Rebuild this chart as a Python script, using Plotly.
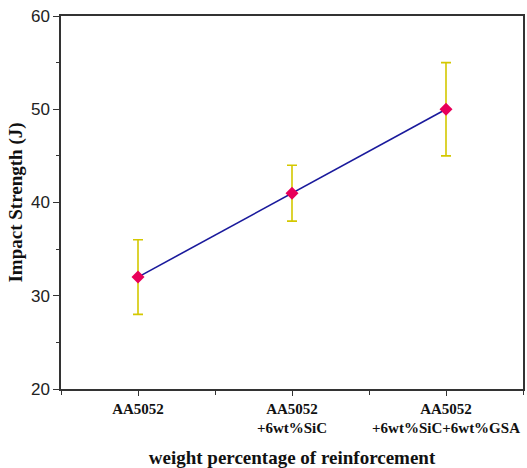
import plotly.graph_objects as go

categories = ["AA5052", "AA5052<br>+6wt%SiC", "AA5052<br>+6wt%SiC+6wt%GSA"]
impact = [32, 41, 50]
err = [4, 3, 5]
xpos = list(range(len(categories)))

fig = go.Figure()
fig.add_trace(go.Scatter(
    x=xpos, y=impact, mode="lines+markers",
    line=dict(color="#1a1a9c", width=1.6),
    marker=dict(symbol="diamond", size=10, color="#e8005a"),
    error_y=dict(type="data", array=err, visible=True, color="#d4c800", thickness=1.6, width=5),
    showlegend=False,
))

serif = "Liberation Serif, Times New Roman, serif"
ticktext = ["<br>".join("<b>%s</b>" % p for p in c.split("<br>")) for c in categories]
fig.update_layout(
    width=527, height=468,
    margin=dict(l=61, r=2, t=16, b=79),
    plot_bgcolor="white", paper_bgcolor="white",
    xaxis=dict(
        range=[-0.5, 2.5], tickvals=xpos, ticktext=ticktext,
        showgrid=False, zeroline=False, showline=True, linecolor="#333", linewidth=1.5,
        mirror=True, ticks="outside", ticklen=5, tickcolor="#333",
        minor=dict(dtick=0.5, tick0=0, ticks="outside", ticklen=4, tickcolor="#333"),
        tickfont=dict(family=serif, size=15, color="#111"),
        title=dict(text="<b>weight percentage of reinforcement</b>", font=dict(family=serif, size=19, color="#111"), standoff=16),
    ),
    yaxis=dict(
        range=[20, 60], dtick=10, showgrid=False, zeroline=False,
        showline=True, linecolor="#333", linewidth=1.5, mirror=True,
        ticks="outside", ticklen=6, tickcolor="#333",
        minor=dict(dtick=5, ticks="outside", ticklen=3, tickcolor="#333"),
        tickfont=dict(family="Liberation Sans, Arial, sans-serif", size=17, color="#222"),
        title=dict(text="<b>Impact Strength (J)</b>", font=dict(family=serif, size=19, color="#111"), standoff=3),
    ),
)
fig.write_html("out.html", config={"displayModeBar": False},
               post_script="document.body.style.margin='0';")
